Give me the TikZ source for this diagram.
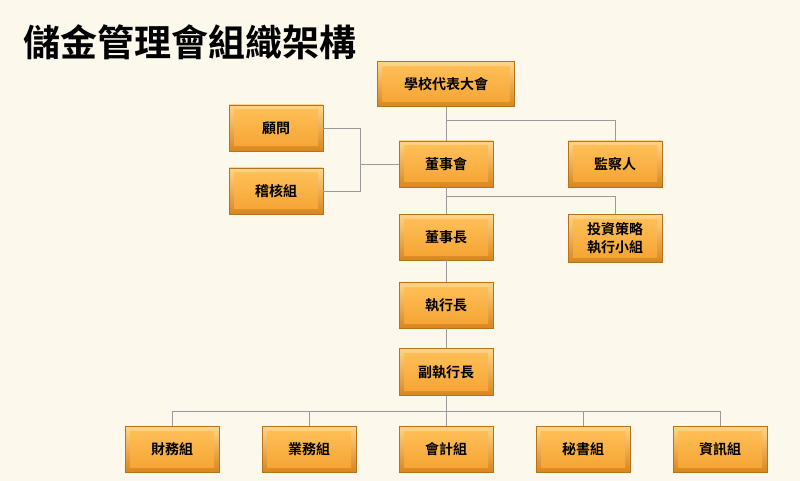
\documentclass[tikz,border=0pt]{standalone}
\usepackage{fontspec}
\newfontfamily\cjk{Noto Sans CJK TC}[BoldFont={* Bold}]
\usetikzlibrary{calc}
\definecolor{bg}{HTML}{FDF8EC}
\definecolor{ln}{HTML}{9A9A9A}
\definecolor{edge}{HTML}{B87218}
\definecolor{otop}{HTML}{FFD58A}
\definecolor{obot}{HTML}{D8861E}
\definecolor{itop}{HTML}{FFC25A}
\definecolor{ibot}{HTML}{F5A232}
\tikzset{
 box/.style={minimum width=94pt, minimum height=46pt, inner sep=0pt, draw=edge, line width=0.6pt,
   top color=otop, bottom color=obot, align=center,
   font=\cjk\bfseries\fontsize{14pt}{16pt}\selectfont,
   path picture={\shade[top color=itop, bottom color=ibot]
     ($(path picture bounding box.south west)+(5pt,5pt)$) rectangle ($(path picture bounding box.north east)-(5pt,5pt)$);}},
 conn/.style={draw=ln, line width=0.8pt}
}
\begin{document}
\begin{tikzpicture}[x=1pt,y=-1pt]
\fill[bg] (0,0) rectangle (800,481);
\useasboundingbox (0,0) rectangle (800,481);
\node[anchor=west, font=\cjk\bfseries\fontsize{37pt}{40pt}\selectfont] (title) at (20,42) {儲金管理會組織架構};
\node[box, minimum width=137pt, minimum height=45pt] (dh) at (446,84) {學校代表大會};
\node[box] (gw) at (276,128) {顧問};
\node[box] (jh) at (276,191) {稽核組};
\node[box] (dsh) at (446,164) {董事會};
\node[box] (jcr) at (615,164) {監察人};
\node[box] (dsz) at (446,237) {董事長};
\node[box, minimum height=48pt, font=\cjk\bfseries\fontsize{14pt}{18pt}\selectfont] (tz) at (615,238) {投資策略\\執行小組};
\node[box] (zxz) at (446,305) {執行長};
\node[box, minimum height=47pt] (fzx) at (446,372) {副執行長};
\node[box] (cw) at (172,449) {財務組};
\node[box] (yw) at (309,449) {業務組};
\node[box] (kj) at (446,449) {會計組};
\node[box] (ms) at (583,449) {秘書組};
\node[box] (zx) at (720,449) {資訊組};
\coordinate (b1) at (446,120);
\coordinate (b2) at (446,196);
\coordinate (bus) at (446,411);
\coordinate (mid) at (360,164);
\path[conn] (dh.south) -- (dsh.north);
\path[conn] (b1) -| (jcr.north);
\path[conn] (gw.east) -| (mid |- jh.east) -- (jh.east);
\path[conn] (mid) -- (dsh.west);
\path[conn] (dsh.south) -- (dsz.north);
\path[conn] (b2) -| (tz.north);
\path[conn] (dsz.south) -- (zxz.north);
\path[conn] (zxz.south) -- (fzx.north);
\path[conn] (fzx.south) -- (kj.north);
\path[conn] (bus) -| (cw.north);
\path[conn] (bus) -| (yw.north);
\path[conn] (bus) -| (ms.north);
\path[conn] (bus) -| (zx.north);
\end{tikzpicture}
\end{document}
